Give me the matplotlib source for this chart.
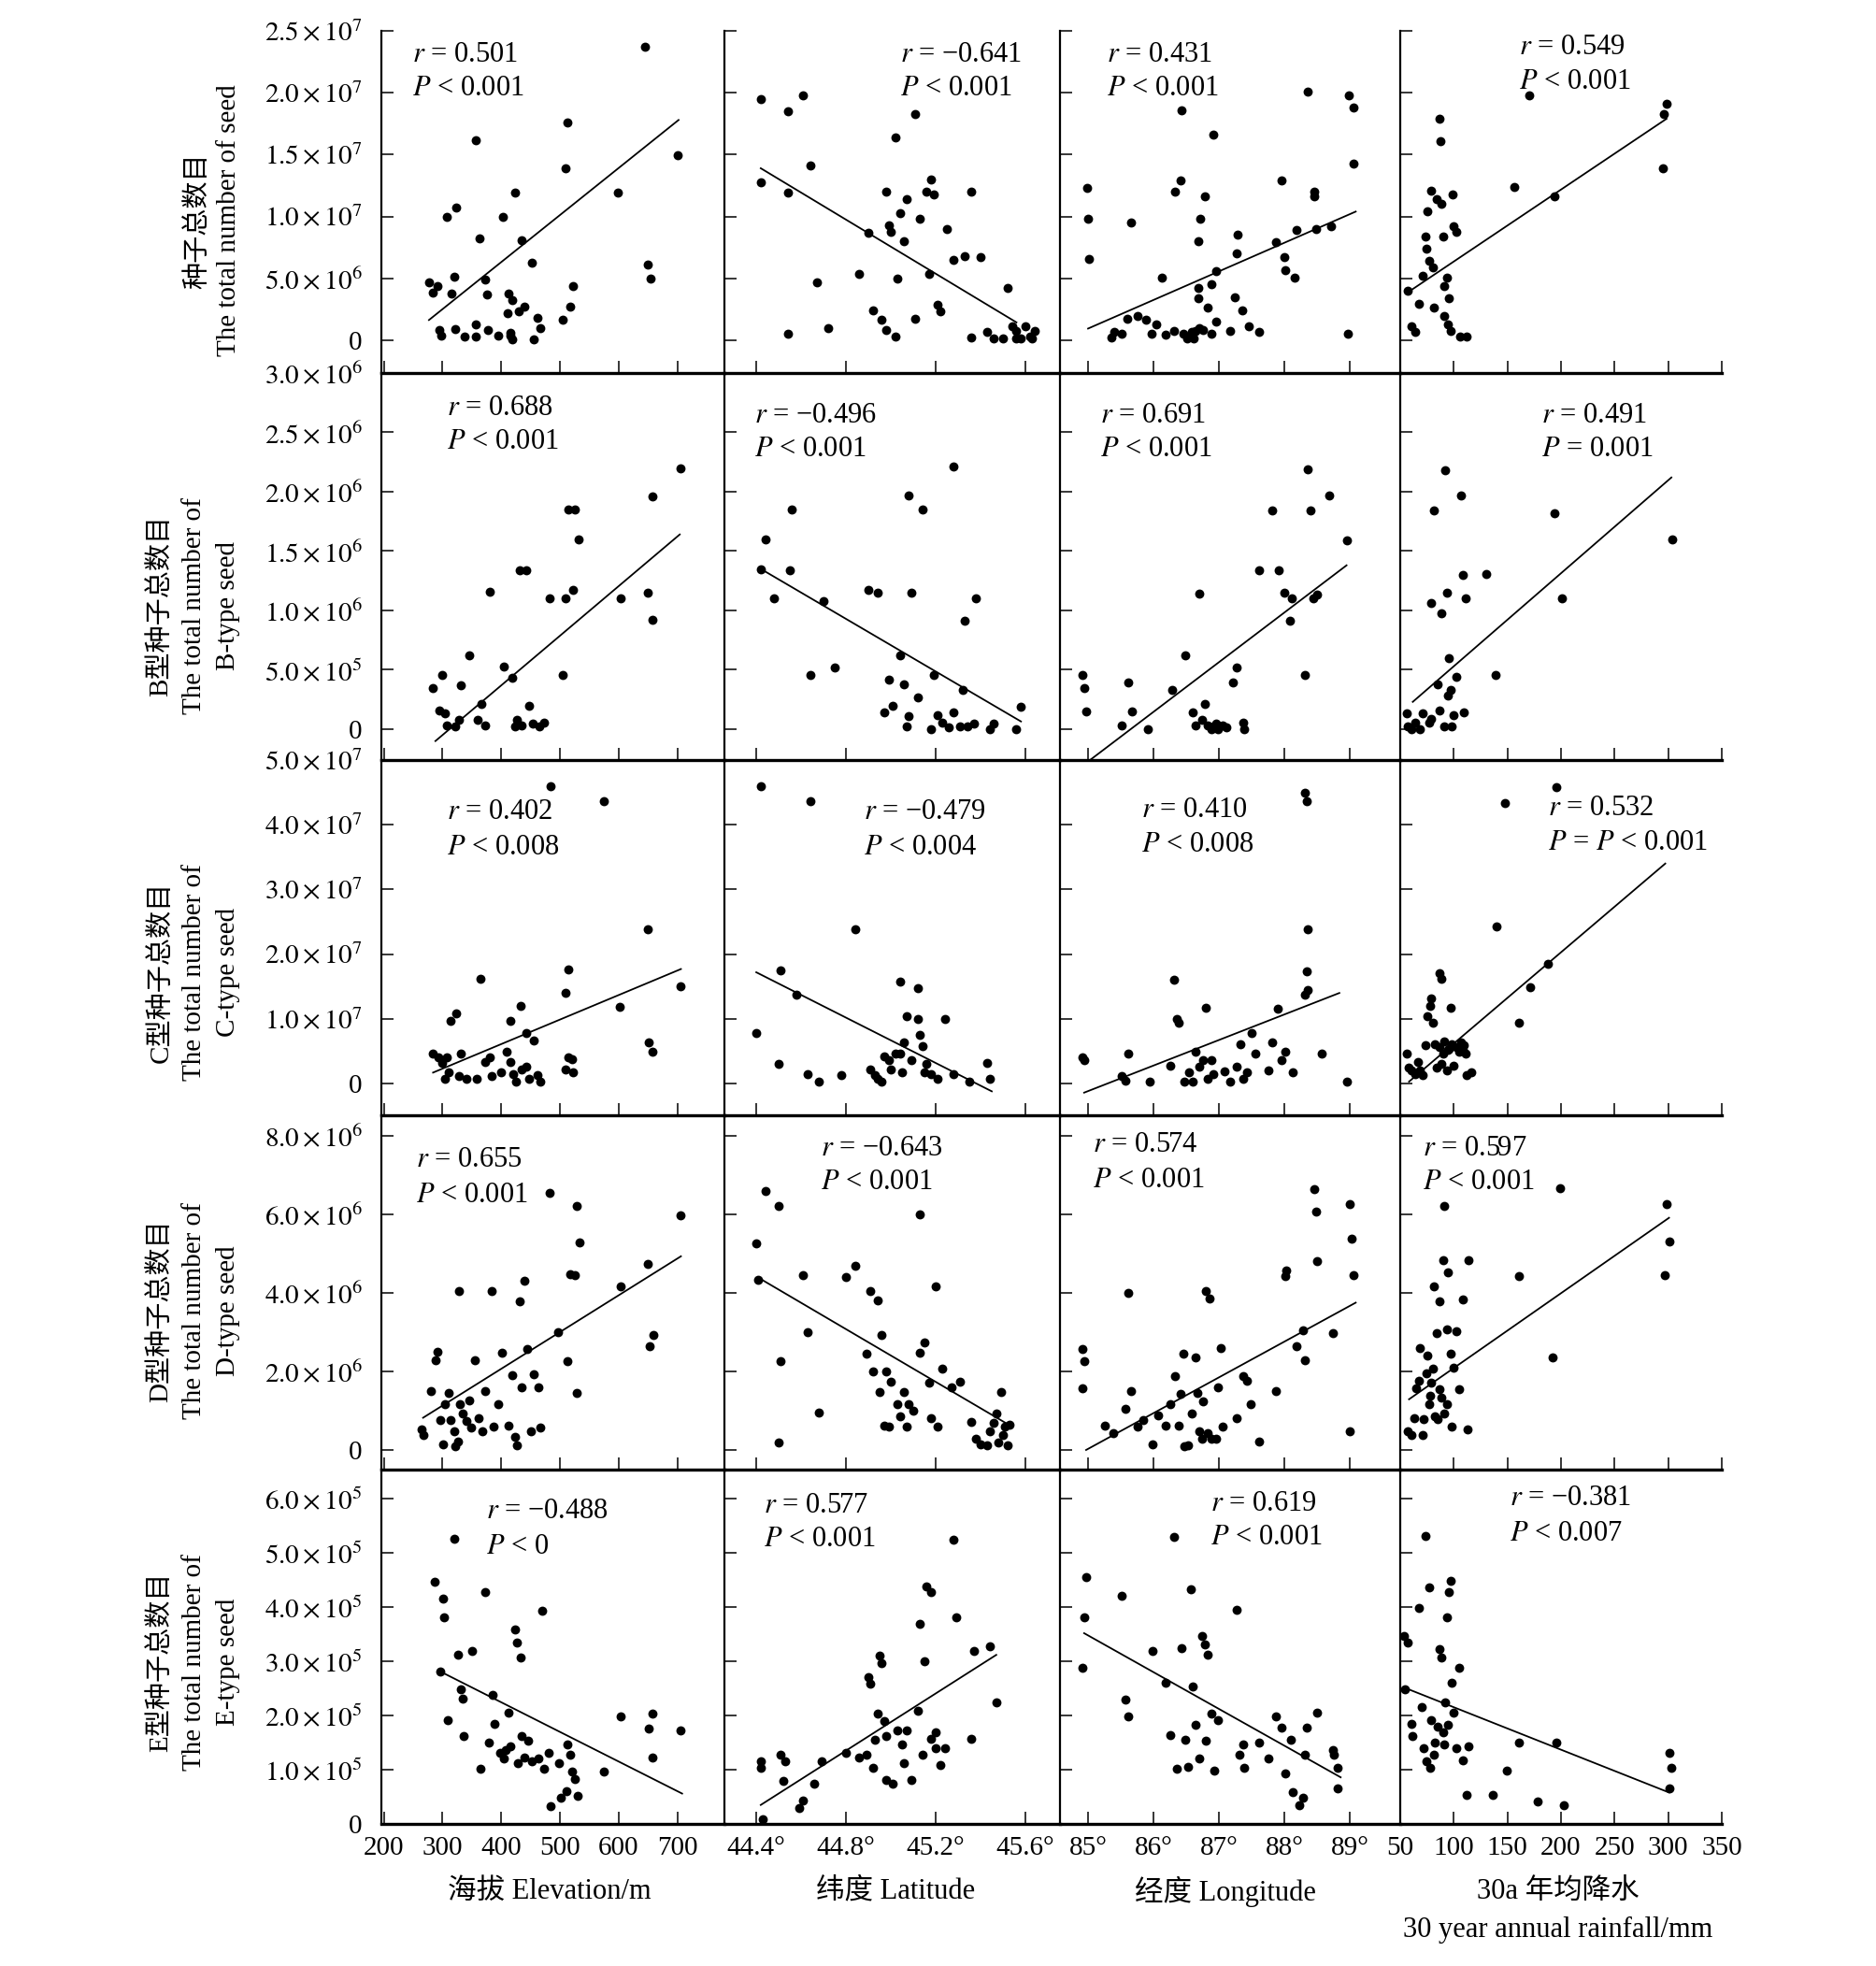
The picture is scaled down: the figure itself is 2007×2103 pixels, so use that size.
import numpy as np
import matplotlib
matplotlib.use("Agg")
import matplotlib.pyplot as plt
from matplotlib.ticker import FixedLocator, FixedFormatter

plt.rcParams['font.family'] = ['Liberation Serif', 'Noto Sans CJK SC']
plt.rcParams['mathtext.fontset'] = 'stix'

W, H = 2008, 2103


def fx(px):
    return px / W


def fy(py):
    return 1 - py / H


# ---------------- data ----------------
# row 1: total seeds
tot_elev_x = [277, 291, 284, 315, 320, 308, 324, 356, 363, 372, 376, 403, 423, 434, 452, 413, 419, 411, 430, 439,
              461, 466, 456, 294, 298, 322, 337, 356, 356, 378, 395, 415, 416, 418, 505, 518, 522, 510, 513, 598,
              645, 649, 655, 700]
tot_elev_y = np.array([4.65, 4.42, 3.84, 3.79, 5.15, 10.0, 10.76, 16.16, 8.2, 4.9, 3.7, 10.0, 11.9, 8.1, 6.3, 3.8,
                       3.26, 2.2, 2.37, 2.7, 1.8, 0.98, 0.1, 0.86, 0.4, 0.93, 0.3, 0.3, 1.29, 0.86, 0.35, 0.6, 0.35,
                       0.1, 1.67, 2.7, 4.4, 13.9, 17.6, 11.9, 23.7, 6.1, 4.95, 14.95]) * 1e6
tot_lat_x = [44.42, 44.42, 44.54, 44.61, 44.54, 44.64, 44.67, 44.54, 44.72, 44.86, 44.90, 44.92, 44.98, 44.99, 45.02,
             45.00, 45.03, 44.96, 44.98, 45.02, 45.04, 45.06, 45.07, 45.11, 45.13, 45.16, 45.18, 45.19, 45.17, 45.11,
             45.21, 45.22, 45.25, 45.28, 45.33, 45.36, 45.40, 45.36, 45.43, 45.46, 45.50, 45.52, 45.54, 45.56, 45.58,
             45.60, 45.62, 45.64, 45.63, 45.56]
tot_lat_y = np.array([19.5, 12.8, 18.5, 19.8, 11.9, 14.1, 4.7, 0.54, 0.95, 5.4, 8.7, 2.4, 12.0, 9.3, 16.4, 8.8, 5.0,
                      1.65, 0.85, 0.34, 10.3, 8.0, 11.4, 18.3, 9.8, 12.0, 13.0, 11.8, 5.4, 1.75, 2.85, 2.35, 9.0, 6.5,
                      6.8, 12.0, 6.7, 0.24, 0.65, 0.14, 0.14, 4.2, 1.15, 0.75, 0.14, 1.15, 0.34, 0.75, 0.14,
                      0.14]) * 1e6
tot_lon_x = [84.98, 85.0, 85.02, 85.36, 85.40, 85.52, 85.65, 85.60, 85.76, 85.88, 85.97, 86.04, 86.13, 86.18, 86.31,
             86.33, 86.41, 86.43, 86.46, 86.51, 86.57, 86.59, 86.64, 86.62, 86.70, 86.68, 86.68, 86.68, 86.72, 86.78,
             86.75, 86.83, 86.88, 86.91, 86.89, 86.96, 86.95, 87.17, 87.24, 87.27, 87.29, 87.35, 87.45, 87.61, 87.87,
             87.96, 88.00, 88.02, 88.16, 88.19, 88.36, 88.45, 88.45, 88.48, 88.71, 88.99, 89.05, 89.05, 88.97]
tot_lon_y = np.array([12.3, 9.8, 6.6, 0.24, 0.65, 0.54, 9.5, 1.75, 1.95, 1.65, 0.54, 1.25, 5.1, 0.44, 0.74, 12.0,
                      12.9, 18.6, 0.54, 0.14, 0.34, 0.65, 0.74, 0.14, 0.95, 3.4, 4.2, 8.0, 9.8, 11.6, 0.85, 2.65,
                      0.54, 16.6, 4.5, 5.6, 1.55, 0.74, 3.5, 7.0, 8.5, 2.45, 1.15, 0.65, 7.9, 12.9, 6.7, 5.7, 5.1,
                      8.9, 20.1, 12.0, 11.6, 9.0, 9.2, 19.8, 18.8, 14.3, 0.54]) * 1e6
tot_rain_x = [57, 60.5, 64, 67.5, 71, 73.3, 74.5, 75.7, 76.8, 79.2, 80.3, 81.5, 83.8, 86.2, 87.3, 88.5, 89.7, 90.8,
              90.8, 93.2, 94.3, 95.5, 96.7, 99, 100, 102.5, 106, 111.8, 156, 170, 193.5, 296, 298.5, 295]
tot_rain_y = np.array([3.98, 1.15, 0.65, 2.97, 5.19, 8.42, 7.41, 10.4, 6.4, 12.1, 5.9, 2.67, 11.4, 17.9, 16.1, 11.0,
                       8.4, 4.4, 1.96, 5.1, 1.25, 3.4, 0.75, 11.8, 9.2, 8.8, 0.34, 0.34, 12.4, 19.8, 11.6, 18.3,
                       19.1, 13.9]) * 1e6

# row 2: B-type seeds
b_elev_x = [284, 299, 295, 305, 307, 322, 328, 332, 345, 360, 366, 372, 381, 404, 418, 423, 427, 435, 431, 442,
            448, 454, 465, 473, 483, 504, 510, 515, 525, 532, 523, 603, 649, 657, 657, 706]
b_elev_y = np.array([3.5, 4.6, 1.6, 1.3, 0.35, 0.25, 0.78, 3.7, 6.2, 0.78, 2.1, 0.35, 11.6, 5.3, 4.3, 0.25, 0.78,
                     0.35, 13.4, 13.4, 2.0, 0.45, 0.25, 0.55, 11.0, 4.6, 11.0, 18.5, 18.5, 16.0, 11.7, 11.0, 11.5,
                     9.2, 19.6, 22.0]) * 1e5
b_lat_x = [44.44, 44.42, 44.48, 44.56, 44.55, 44.64, 44.70, 44.75, 44.90, 44.94, 44.97, 44.99, 45.01, 45.04, 45.06,
           45.07, 45.08, 45.08, 45.09, 45.12, 45.14, 45.18, 45.19, 45.21, 45.23, 45.26, 45.28, 45.28, 45.31, 45.32,
           45.33, 45.34, 45.37, 45.38, 45.44, 45.46, 45.56, 45.58]
b_lat_y = np.array([16.0, 13.5, 11.0, 18.5, 13.4, 4.6, 10.8, 5.2, 11.7, 11.5, 1.4, 4.2, 2.0, 6.2, 3.8, 0.25, 19.7,
                    1.1, 11.5, 2.7, 18.5, 0.0, 4.6, 1.2, 0.55, 0.15, 22.1, 1.4, 0.25, 3.3, 9.1, 0.25, 0.45, 11.0,
                    0.0, 0.45, 0.0, 1.9]) * 1e5
b_lon_x = [84.92, 84.94, 84.97, 85.52, 85.61, 85.67, 85.92, 86.28, 86.49, 86.60, 86.64, 86.70, 86.74, 86.78, 86.83,
           86.88, 86.91, 86.95, 86.99, 87.06, 87.11, 87.22, 87.27, 87.37, 87.39, 87.61, 87.82, 87.92, 88.00, 88.08,
           88.11, 88.32, 88.36, 88.44, 88.50, 88.40, 88.68, 88.95]
b_lon_y = np.array([4.6, 3.5, 1.5, 0.35, 3.9, 1.5, 0.0, 3.3, 6.2, 1.4, 0.35, 11.4, 0.75, 2.1, 0.35, 0.0, 0.25, 0.45,
                    0.0, 0.35, 0.15, 3.9, 5.2, 0.55, 0.0, 13.4, 18.4, 13.4, 11.5, 9.1, 11.0, 4.6, 21.9, 11.0, 11.3,
                    18.4, 19.7, 15.9]) * 1e5
b_rain_x = [55.8, 57, 60.5, 64, 68.7, 71, 76.8, 79.2, 79.2, 81.5, 85, 86.2, 88.5, 90.8, 92, 93.2, 95.5, 94.3, 96.7,
            97.8, 100, 102.5, 107, 108, 110.7, 109.5, 130.5, 138.7, 193.5, 200.5, 304]
b_rain_y = np.array([1.3, 0.25, 0.0, 0.55, 0.0, 1.3, 0.55, 10.6, 0.89, 18.4, 3.8, 1.6, 9.8, 0.25, 21.8, 11.5, 6.0,
                     2.8, 3.3, 0.25, 1.2, 4.4, 19.7, 13.0, 11.0, 1.4, 13.1, 4.6, 18.2, 11.0, 16.0]) * 1e5

# row 3: C-type seeds
c_elev_x = [284, 293, 299, 307, 313, 324, 332, 305, 311, 328, 341, 358, 364, 372, 381, 383, 400, 416, 410, 416,
            421, 425, 433, 435, 443, 448, 442, 456, 461, 467, 484, 509, 514, 520, 514, 509, 523, 574, 601, 649,
            651, 657, 706]
c_elev_y = np.array([4.6, 4.0, 3.2, 4.0, 9.7, 10.8, 4.7, 0.7, 1.7, 1.1, 0.7, 0.7, 16.2, 3.4, 4.0, 1.1, 1.7, 9.7, 4.9,
                     3.4, 1.5, 0.3, 12.0, 2.2, 2.6, 0.7, 7.8, 6.6, 1.3, 0.3, 46.0, 2.2, 4.1, 3.8, 17.7, 14.0, 1.7,
                     43.7, 11.9, 23.9, 6.3, 4.9, 15.0]) * 1e6
c_lat_x = [44.40, 44.42, 44.51, 44.50, 44.58, 44.64, 44.63, 44.68, 44.78, 44.84, 44.91, 44.93, 44.94, 44.96, 44.97,
           44.99, 45.00, 45.02, 45.04, 45.04, 45.05, 45.06, 45.07, 45.09, 45.12, 45.12, 45.13, 45.14, 45.15, 45.16,
           45.18, 45.21, 45.24, 45.28, 45.35, 45.43, 45.44]
c_lat_y = np.array([7.8, 46.0, 17.5, 3.0, 13.7, 43.7, 1.5, 0.3, 1.3, 23.9, 2.2, 1.3, 0.7, 0.3, 4.2, 3.6, 2.2, 4.6,
                    15.8, 4.6, 1.7, 6.3, 10.4, 3.6, 14.8, 10.0, 7.5, 5.8, 1.7, 3.0, 1.5, 0.7, 10.0, 1.5, 0.3, 3.2,
                    0.7]) * 1e6
c_lon_x = [84.92, 84.94, 85.52, 85.57, 85.61, 85.94, 86.26, 86.31, 86.36, 86.39, 86.47, 86.54, 86.60, 86.64, 86.70,
           86.75, 86.80, 86.83, 86.88, 86.91, 87.09, 87.17, 87.27, 87.33, 87.37, 87.43, 87.50, 87.56, 87.75, 87.81,
           87.90, 87.95, 88.02, 88.13, 88.32, 88.36, 88.36, 88.34, 88.32, 88.34, 88.57, 88.95]
c_lon_y = np.array([4.0, 3.6, 1.1, 0.5, 4.6, 0.3, 2.8, 16.0, 10.0, 9.4, 0.3, 1.7, 0.3, 4.9, 2.6, 3.6, 11.7, 0.7,
                    3.6, 1.5, 1.9, 0.3, 2.6, 6.1, 0.7, 1.7, 7.8, 4.6, 2.1, 6.4, 11.5, 3.6, 4.9, 1.7, 13.7, 14.5,
                    23.9, 17.4, 45.0, 43.7, 4.6, 0.3]) * 1e6
c_rain_x = [55.8, 58.2, 60.5, 64, 66.3, 68.7, 71, 73.3, 75.7, 78, 79.2, 80.3, 82.7, 83.8, 86.2, 86.2, 88.5, 88.5,
            89.7, 90.8, 93.2, 94.3, 95.5, 96.7, 97.8, 100, 102.5, 105, 107, 108, 109.5, 110.7, 111.8, 116.5,
            139.8, 148, 160.8, 171.3, 187.7, 195.8]
c_rain_y = np.array([4.6, 2.5, 2.1, 1.5, 3.4, 2.1, 1.3, 5.9, 10.4, 12.0, 13.1, 9.4, 6.1, 2.4, 17.0, 5.6, 16.2, 3.0,
                     4.6, 6.5, 2.1, 5.2, 5.3, 11.7, 6.1, 2.8, 5.6, 4.9, 6.3, 5.2, 5.9, 4.6, 1.3, 1.7, 24.3, 43.3,
                     9.4, 14.9, 18.5, 45.8]) * 1e6

# row 4: D-type seeds
d_elev_x = [265, 267, 280, 288, 292, 297, 301, 305, 311, 313, 320, 322, 326, 328, 330, 334, 341, 345, 349, 355,
            362, 368, 372, 383, 387, 395, 402, 412, 418, 423, 427, 431, 435, 440, 444, 450, 456, 463, 467, 482,
            496, 513, 518, 525, 529, 534, 529, 603, 649, 653, 659, 706]
d_elev_y = np.array([0.53, 0.38, 1.49, 2.29, 2.5, 0.76, 0.15, 1.17, 1.46, 0.76, 0.47, 0.09, 0.21, 4.04, 1.17, 0.92,
                     0.73, 1.27, 0.56, 2.29, 0.82, 0.47, 1.49, 4.04, 0.59, 1.17, 2.47, 0.62, 1.9, 0.34, 0.12, 3.78,
                     1.6, 4.3, 2.56, 0.47, 1.93, 1.6, 0.56, 6.55, 3.0, 2.25, 4.48, 4.45, 6.2, 5.28, 1.46, 4.16,
                     4.74, 2.63, 2.92, 5.98]) * 1e6
d_lat_x = [44.40, 44.41, 44.44, 44.50, 44.51, 44.50, 44.61, 44.63, 44.68, 44.80, 44.84, 44.89, 44.91, 44.92, 44.94,
           44.95, 44.96, 44.97, 44.98, 44.99, 45.00, 45.03, 45.04, 45.06, 45.07, 45.08, 45.10, 45.13, 45.13, 45.15,
           45.17, 45.18, 45.20, 45.21, 45.23, 45.27, 45.31, 45.36, 45.38, 45.40, 45.43, 45.44, 45.46, 45.47, 45.48,
           45.49, 45.50, 45.51, 45.52, 45.53]
d_lat_y = np.array([5.25, 4.32, 6.6, 6.2, 2.25, 0.2, 4.45, 3.0, 0.95, 4.4, 4.7, 2.45, 4.04, 2.0, 3.8, 1.48, 2.92,
                    0.62, 2.0, 0.59, 1.74, 1.17, 0.85, 1.48, 0.59, 1.17, 1.0, 6.0, 2.47, 2.73, 1.71, 0.82, 4.16,
                    0.59, 2.06, 1.6, 1.74, 0.72, 0.28, 0.15, 0.12, 0.47, 0.69, 0.92, 0.18, 1.48, 0.37, 0.59, 0.12,
                    0.65]) * 1e6
d_lon_x = [84.92, 84.94, 84.92, 85.26, 85.39, 85.57, 85.61, 85.65, 85.75, 85.84, 85.99, 86.07, 86.18, 86.26, 86.33,
           86.38, 86.41, 86.46, 86.47, 86.53, 86.59, 86.64, 86.67, 86.70, 86.74, 86.75, 86.80, 86.83, 86.85, 86.89,
           86.95, 86.99, 87.03, 87.06, 87.27, 87.37, 87.43, 87.48, 87.61, 87.87, 88.02, 88.03, 88.19, 88.29, 88.32,
           88.45, 88.48, 88.50, 88.74, 89.00, 89.03, 89.05, 89.00]
d_lon_y = np.array([2.56, 2.25, 1.58, 0.62, 0.44, 1.04, 4.0, 1.49, 0.59, 0.76, 0.15, 0.88, 0.62, 1.17, 1.87, 0.62,
                    1.43, 2.45, 0.09, 0.12, 0.92, 2.35, 1.46, 0.47, 0.28, 1.23, 4.04, 0.44, 3.85, 0.28, 0.28, 1.6,
                    2.6, 0.59, 0.82, 1.87, 1.77, 1.17, 0.21, 1.49, 4.42, 4.58, 2.63, 3.04, 2.29, 6.64, 6.07, 4.8,
                    2.98, 6.27, 5.37, 4.45, 0.47]) * 1e6
d_rain_x = [57, 60.5, 62.8, 65.2, 67.5, 68.7, 71, 72.2, 74.5, 75.7, 76.8, 78, 79.2, 80.3, 81.5, 82.7, 83.8, 85,
            86.2, 86.2, 88.5, 89.7, 90.8, 90.8, 93.2, 93.2, 94.3, 96.7, 97.8, 100, 102.5, 105, 108.3, 113, 114,
            160.8, 192, 199, 298.5, 300.8, 297]
d_rain_y = np.array([0.47, 0.38, 0.82, 1.58, 1.77, 2.6, 0.38, 0.79, 1.96, 2.41, 1.17, 1.39, 1.71, 2.06, 4.16, 0.85,
                     2.98, 0.79, 3.78, 1.55, 1.33, 4.83, 6.2, 0.92, 3.08, 1.17, 4.51, 2.44, 0.59, 2.09, 3.02, 1.55,
                     3.84, 0.53, 4.83, 4.42, 2.35, 6.67, 6.27, 5.31, 4.45]) * 1e6

# row 5: E-type seeds
e_elev_x = [286, 301, 303, 297, 309, 320, 326, 332, 334, 336, 351, 364, 372, 379, 385, 389, 398, 404, 408, 412,
            416, 423, 427, 429, 433, 435, 440, 446, 452, 463, 469, 473, 481, 484, 498, 502, 511, 513, 517, 521,
            525, 530, 603, 574, 651, 657, 657, 706]
e_elev_y = np.array([4.47, 4.16, 3.82, 2.82, 1.92, 5.27, 3.12, 2.48, 2.31, 1.62, 3.19, 1.02, 4.28, 1.5, 2.38, 1.85,
                     1.32, 1.2, 1.36, 2.06, 1.43, 3.59, 3.35, 1.13, 3.08, 1.62, 1.23, 1.53, 1.16, 1.2, 3.93, 1.02,
                     1.32, 0.32, 1.13, 0.49, 0.6, 1.46, 1.27, 0.97, 0.83, 0.51, 1.99, 0.97, 1.76, 2.04, 1.23,
                     1.73]) * 1e5
e_lat_x = [44.42, 44.42, 44.43, 44.51, 44.52, 44.53, 44.59, 44.61, 44.66, 44.69, 44.80, 44.86, 44.89, 44.90, 44.91,
           44.92, 44.93, 44.94, 44.95, 44.96, 44.97, 44.98, 44.98, 45.01, 45.03, 45.05, 45.06, 45.07, 45.09, 45.12,
           45.13, 45.14, 45.15, 45.16, 45.18, 45.18, 45.20, 45.20, 45.22, 45.24, 45.28, 45.29, 45.36, 45.37, 45.44,
           45.47]
e_lat_y = np.array([1.04, 1.16, 0.09, 1.27, 0.79, 1.16, 0.3, 0.44, 0.74, 1.16, 1.32, 1.23, 1.27, 2.71, 2.59, 1.04,
                    1.55, 2.04, 3.1, 2.96, 1.9, 1.62, 0.81, 0.74, 1.73, 1.46, 1.13, 1.73, 0.81, 2.08, 3.7, 1.27, 3.0,
                    4.39, 4.28, 1.57, 1.69, 1.39, 1.09, 1.39, 5.25, 3.82, 1.57, 3.19, 3.28, 2.24]) * 1e5
e_lon_x = [84.97, 84.94, 84.92, 85.52, 85.57, 85.61, 85.99, 86.18, 86.26, 86.31, 86.36, 86.43, 86.49, 86.53, 86.57,
           86.60, 86.64, 86.70, 86.74, 86.78, 86.80, 86.83, 86.88, 86.93, 86.99, 87.27, 87.32, 87.37, 87.38, 87.61,
           87.75, 87.87, 87.95, 88.02, 88.10, 88.13, 88.23, 88.29, 88.32, 88.34, 88.50, 88.74, 88.76, 88.81, 88.82]
e_lon_y = np.array([4.56, 3.82, 2.89, 4.21, 2.29, 1.99, 3.19, 2.61, 1.64, 5.3, 1.02, 3.24, 1.55, 1.06, 4.33, 2.54,
                    1.83, 1.2, 3.47, 3.31, 1.53, 3.12, 2.04, 0.99, 1.92, 3.96, 1.27, 1.46, 1.04, 1.5, 1.2, 1.99,
                    1.78, 0.93, 1.55, 0.58, 0.35, 0.49, 1.27, 1.78, 2.06, 1.36, 1.27, 1.04, 0.65]) * 1e5
e_rain_x = [53.5, 54.7, 57, 60.5, 61.7, 67.5, 69.8, 72.2, 73.3, 74.5, 76.8, 78, 79.2, 81.5, 82.7, 85, 86.2, 88.5,
            89.7, 90.8, 92, 93.2, 94.3, 95.5, 96.7, 97.8, 100, 102.5, 105, 108.3, 111.8, 114, 136.3, 149.2, 160.8,
            178, 195.8, 202.8, 300.8, 303.2, 300.8]
e_rain_y = np.array([3.47, 2.48, 3.35, 1.85, 1.62, 3.98, 2.15, 1.39, 5.32, 1.16, 4.37, 1.04, 1.92, 1.27, 1.5, 1.8,
                     3.22, 3.08, 1.69, 1.46, 2.24, 3.82, 1.83, 4.28, 4.49, 2.61, 2.06, 1.39, 2.89, 1.18, 0.53, 1.43,
                     0.53, 0.99, 1.5, 0.42, 1.5, 0.35, 1.32, 1.04, 0.65]) * 1e5

# regression lines: (x start, x end), (y start, y end)
fit_lines = [
    [((277, 702), (1.64e6, 1.78e7)), ((44.42, 45.56), (1.39e7, 1.45e6)),
     ((85.0, 89.09), (9.5e5, 1.04e7)), ((55.8, 298.5), (3.8e6, 1.79e7))],
    [((288, 704), (-1.0e5, 1.64e6)), ((44.42, 45.58), (1.35e6, 6.5e4)),
     ((85.03, 88.95), (-2.6e5, 1.38e6)), ((61.7, 303), (2.3e5, 2.12e6))],
    [((284, 706), (1.7e6, 1.77e7)), ((44.40, 45.45), (1.72e7, -1.2e6)),
     ((84.94, 88.84), (-1.4e6, 1.4e7)), ((58.2, 297.3), (3e5, 3.4e7))],
    [((267, 706), (8.2e5, 4.93e6)), ((44.42, 45.52), (4.35e6, 6.6e5)),
     ((84.97, 89.09), (0, 3.75e6)), ((58.2, 300.8), (1.29e6, 5.91e6))],
    [((295, 708), (2.82e5, 5.6e4)), ((44.42, 45.47), (3.5e4, 3.12e5)),
     ((84.94, 88.86), (3.52e5, 8.6e4)), ((55.8, 300.8), (2.5e5, 5.8e4))],
]

r_vals = [["0.501", "\u22120.641", "0.431", "0.549"],
          ["0.688", "\u22120.496", "0.691", "0.491"],
          ["0.402", "\u22120.479", "0.410", "0.532"],
          ["0.655", "\u22120.643", "0.574", "0.597"],
          ["\u22120.488", "0.577", "0.619", "\u22120.381"]]
p_vals = [["< 0.001", "< 0.001", "< 0.001", "< 0.001"],
          ["< 0.001", "< 0.001", "< 0.001", "= 0.001"],
          ["< 0.008", "< 0.004", "< 0.008", "= $P$ < 0.001"],
          ["< 0.001", "< 0.001", "< 0.001", "< 0.001"],
          ["< 0", "< 0.001", "< 0.001", "< 0.007"]]

data = [
    [(tot_elev_x, tot_elev_y), (tot_lat_x, tot_lat_y), (tot_lon_x, tot_lon_y), (tot_rain_x, tot_rain_y)],
    [(b_elev_x, b_elev_y), (b_lat_x, b_lat_y), (b_lon_x, b_lon_y), (b_rain_x, b_rain_y)],
    [(c_elev_x, c_elev_y), (c_lat_x, c_lat_y), (c_lon_x, c_lon_y), (c_rain_x, c_rain_y)],
    [(d_elev_x, d_elev_y), (d_lat_x, d_lat_y), (d_lon_x, d_lon_y), (d_rain_x, d_rain_y)],
    [(e_elev_x, e_elev_y), (e_lat_x, e_lat_y), (e_lon_x, e_lon_y), (e_rain_x, e_rain_y)],
]

# ---------------- axes settings ----------------
xlims = [(196, 780), (44.258, 45.754), (84.571, 89.77), (50, 350)]
xticks = [[200, 300, 400, 500, 600, 700], [44.4, 44.8, 45.2, 45.6], [85, 86, 87, 88, 89],
          [50, 100, 150, 200, 250, 300, 350]]
xticklabels = [[str(v) for v in xticks[0]], ["%.1f\u00b0" % v for v in xticks[1]],
               ["%d\u00b0" % v for v in xticks[2]], [str(v) for v in xticks[3]]]
ylims = [(-2.64e6, 2.5e7), (-2.6e5, 3.0e6), (-4.9e6, 5.0e7), (-5.0e5, 8.52e6), (0, 6.54e5)]
yticks = [[0, 5e6, 1e7, 1.5e7, 2e7, 2.5e7],
          [0, 5e5, 1e6, 1.5e6, 2e6, 2.5e6, 3e6],
          [0, 1e7, 2e7, 3e7, 4e7, 5e7],
          [0, 2e6, 4e6, 6e6, 8e6],
          [0, 1e5, 2e5, 3e5, 4e5, 5e5, 6e5]]


def sci(v):
    if v == 0:
        return "0"
    e = int(np.floor(np.log10(v) + 1e-9))
    m = v / 10 ** e
    return r"$%.1f\times10^{%d}$" % (m, e)


col_edges = [408, 775, 1134, 1498, 1842]
row_edges = [33, 399, 813, 1193, 1572, 1951]

# annotation anchors (left edge, centre of first line) in pixels
ann_pos = [[(441, 58), (963, 58), (1184, 58), (1625, 50)],
           [(478, 436), (807, 444), (1177, 444), (1649, 444)],
           [(478, 869), (924, 869), (1221, 866), (1656, 864)],
           [(445, 1241), (878, 1228), (1169, 1225), (1522, 1228)],
           [(520, 1617), (817, 1610), (1295, 1608), (1615, 1603)]]

fig = plt.figure(figsize=(W / 100, H / 100), dpi=100)

for i in range(5):
    for j in range(4):
        l, r = col_edges[j], col_edges[j + 1]
        t, b = row_edges[i], row_edges[i + 1]
        ax = fig.add_axes([fx(l), fy(b), (r - l) / W, (b - t) / H])
        xs, ys = data[i][j]
        ax.scatter(xs, ys, s=50, color='black', linewidths=0, clip_on=False, zorder=3)
        (lx, ly) = fit_lines[i][j]
        ax.plot(lx, ly, color='black', lw=1.3)
        ax.set_xlim(*xlims[j])
        ax.set_ylim(*ylims[i])
        ax.xaxis.set_major_locator(FixedLocator(xticks[j]))
        ax.xaxis.set_major_formatter(FixedFormatter(xticklabels[j]))
        ax.yaxis.set_major_locator(FixedLocator(yticks[i]))
        ax.yaxis.set_major_formatter(FixedFormatter([sci(v) for v in yticks[i]]))
        ax.spines['top'].set_visible(False)
        ax.spines['right'].set_visible(False)
        ax.spines['left'].set_linewidth(1.6)
        ax.spines['bottom'].set_linewidth(2.4)
        ax.tick_params(axis='both', direction='in', length=9.5, width=1.1, labelsize=21)
        ax.tick_params(axis='y', pad=15, labelleft=(j == 0))
        ax.tick_params(axis='x', pad=9, labelbottom=(i == 4))
        ax.patch.set_alpha(0)

        ax_x, ax_y = ann_pos[i][j]
        fig.text(fx(ax_x), fy(ax_y), "$r$ = " + r_vals[i][j], fontsize=22, ha='left', va='center')
        fig.text(fx(ax_x), fy(ax_y + 37), "$P$ " + p_vals[i][j], fontsize=22, ha='left', va='center')

# y labels
ylab_rows = [["种子总数目", "The total number of seed"],
             ["B型种子总数目", "The total number of", "B-type seed"],
             ["C型种子总数目", "The total number of", "C-type seed"],
             ["D型种子总数目", "The total number of", "D-type seed"],
             ["E型种子总数目", "The total number of", "E-type seed"]]
ylab_y = [236, 648, 1040, 1402, 1778]
for i, lines in enumerate(ylab_rows):
    xpos = [212, 245] if len(lines) == 2 else [172, 208, 244]
    for k, (txt, xp) in enumerate(zip(lines, xpos)):
        fig.text(fx(xp), fy(ylab_y[i]), txt, rotation=90, ha='center', va='center', fontsize=21)

# x labels
fig.text(fx(588), fy(2023), "海拔 Elevation/m", ha='center', va='center', fontsize=22)
fig.text(fx(958), fy(2023), "纬度 Latitude", ha='center', va='center', fontsize=22)
fig.text(fx(1311), fy(2023), "经度 Longitude", ha='center', va='center', fontsize=22)
fig.text(fx(1667), fy(2023), "30a 年均降水", ha='center', va='center', fontsize=22)
fig.text(fx(1667), fy(2064), "30 year annual rainfall/mm", ha='center', va='center', fontsize=22)

fig.savefig("out.png", dpi=100)
